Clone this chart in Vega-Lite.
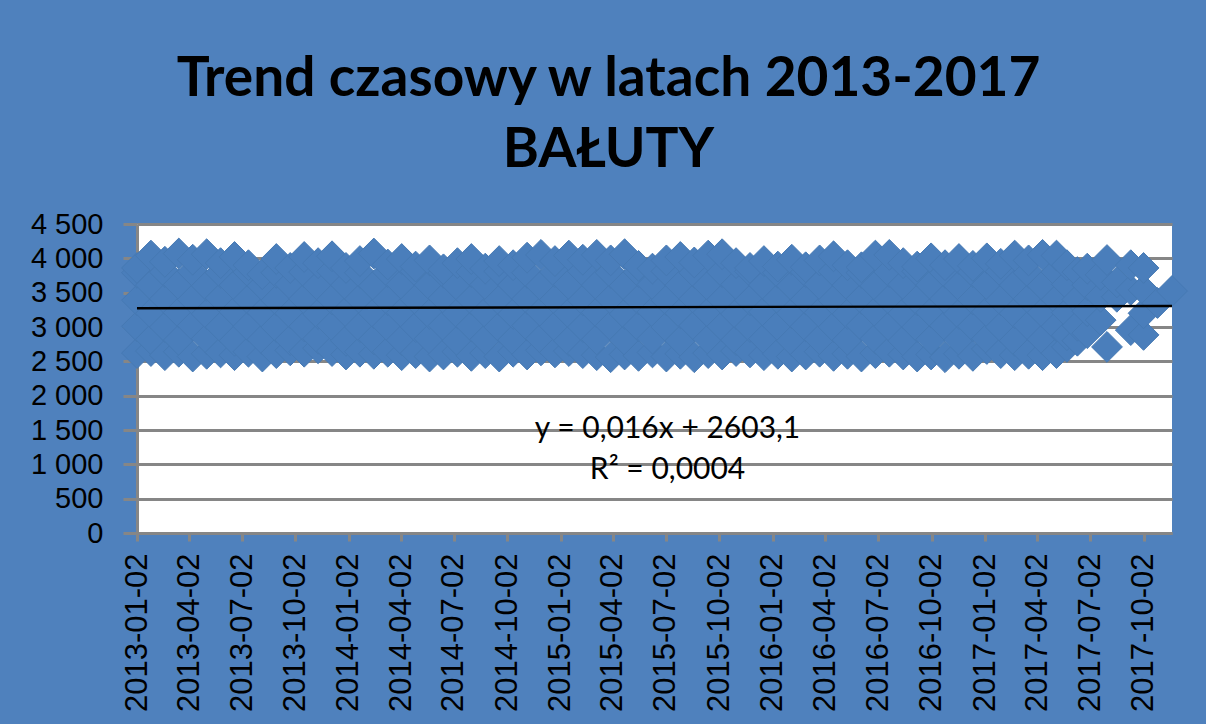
{
"$schema":"https://vega.github.io/schema/vega-lite/v6.json",
"width":1035,"height":309,
"autosize":"none",
"padding":{"left":137,"top":224,"right":34,"bottom":191},
"background":"#4f81bd",
"config":{"view":{"fill":"#ffffff","stroke":null}},
"title":{"text":["Trend czasowy w latach 2013-2017","BAŁUTY"],"font":"Lato","fontSize":55,"fontWeight":"bold","color":"#000000","anchor":"middle","dx":-46,"offset":31,"lineHeight":71},
"encoding":{
"x":{"field":"d","type":"temporal","scale":{"type":"utc","domain":[{"year":2013,"month":1,"date":2,"utc":true},{"year":2017,"month":11,"date":20,"utc":true}],"nice":false},
"axis":{"title":null,"values":[{"year":2013,"month":1,"date":2,"utc":true},{"year":2013,"month":4,"date":2,"utc":true},{"year":2013,"month":7,"date":2,"utc":true},{"year":2013,"month":10,"date":2,"utc":true},{"year":2014,"month":1,"date":2,"utc":true},{"year":2014,"month":4,"date":2,"utc":true},{"year":2014,"month":7,"date":2,"utc":true},{"year":2014,"month":10,"date":2,"utc":true},{"year":2015,"month":1,"date":2,"utc":true},{"year":2015,"month":4,"date":2,"utc":true},{"year":2015,"month":7,"date":2,"utc":true},{"year":2015,"month":10,"date":2,"utc":true},{"year":2016,"month":1,"date":2,"utc":true},{"year":2016,"month":4,"date":2,"utc":true},{"year":2016,"month":7,"date":2,"utc":true},{"year":2016,"month":10,"date":2,"utc":true},{"year":2017,"month":1,"date":2,"utc":true},{"year":2017,"month":4,"date":2,"utc":true},{"year":2017,"month":7,"date":2,"utc":true},{"year":2017,"month":10,"date":2,"utc":true}],
"labelExpr":"utcFormat(datum.value, '%Y-%m-%d')","labelAngle":-90,"labelAlign":"right","labelBaseline":"middle","labelFont":"Liberation Sans","labelFontSize":31,"labelColor":"#000000","labelPadding":12,"labelOverlap":false,"labelBound":false,"labelFlush":false,"grid":false,"domainColor":"#868686","domainWidth":3,"tickColor":"#868686","tickWidth":3,"tickSize":8}},
"y":{"field":"v","type":"quantitative","scale":{"domain":[0,4500],"nice":false},
"axis":{"title":null,"values":[0,500,1000,1500,2000,2500,3000,3500,4000,4500],"labelExpr":"replace(format(datum.value, ','), ',', ' ')","labelFont":"Liberation Sans","labelFontSize":29,"labelColor":"#000000","labelPadding":20,"labelOverlap":false,"labelBound":false,"labelFlush":false,"grid":true,"gridColor":"#868686","gridWidth":3,"domainColor":"#868686","domainWidth":3,"tickColor":"#868686","tickWidth":3,"tickSize":14}}
},
"layer":[
{"data":{"values":[
{"d":"2013-01-02","v":2620},{"d":"2013-01-02","v":3010},{"d":"2013-01-02","v":3390},{"d":"2013-01-02","v":3790},{"d":"2013-01-02","v":3860},
{"d":"2013-01-26","v":2650},{"d":"2013-01-26","v":2820},{"d":"2013-01-26","v":3200},{"d":"2013-01-26","v":3610},{"d":"2013-01-26","v":4040},
{"d":"2013-02-19","v":2590},{"d":"2013-02-19","v":3000},{"d":"2013-02-19","v":3410},{"d":"2013-02-19","v":3800},{"d":"2013-02-19","v":3950},
{"d":"2013-03-15","v":2640},{"d":"2013-03-15","v":2810},{"d":"2013-03-15","v":3210},{"d":"2013-03-15","v":3620},{"d":"2013-03-15","v":4070},
{"d":"2013-04-08","v":2570},{"d":"2013-04-08","v":3020},{"d":"2013-04-08","v":3400},{"d":"2013-04-08","v":3810},{"d":"2013-04-08","v":3980},
{"d":"2013-05-02","v":2610},{"d":"2013-05-02","v":2830},{"d":"2013-05-02","v":3190},{"d":"2013-05-02","v":3600},{"d":"2013-05-02","v":4060},
{"d":"2013-05-26","v":2630},{"d":"2013-05-26","v":3000},{"d":"2013-05-26","v":3420},{"d":"2013-05-26","v":3790},{"d":"2013-05-26","v":3930},
{"d":"2013-06-19","v":2590},{"d":"2013-06-19","v":2800},{"d":"2013-06-19","v":3220},{"d":"2013-06-19","v":3610},{"d":"2013-06-19","v":4020},
{"d":"2013-07-13","v":2640},{"d":"2013-07-13","v":3010},{"d":"2013-07-13","v":3400},{"d":"2013-07-13","v":3800},{"d":"2013-07-13","v":3900},
{"d":"2013-08-06","v":2570},{"d":"2013-08-06","v":2820},{"d":"2013-08-06","v":3210},{"d":"2013-08-06","v":3600},{"d":"2013-08-06","v":3770},
{"d":"2013-08-30","v":2620},{"d":"2013-08-30","v":3000},{"d":"2013-08-30","v":3390},{"d":"2013-08-30","v":3790},{"d":"2013-08-30","v":3990},
{"d":"2013-09-23","v":2660},{"d":"2013-09-23","v":2810},{"d":"2013-09-23","v":3200},{"d":"2013-09-23","v":3620},{"d":"2013-09-23","v":3860},
{"d":"2013-10-17","v":2640},{"d":"2013-10-17","v":3010},{"d":"2013-10-17","v":3410},{"d":"2013-10-17","v":3800},{"d":"2013-10-17","v":4020},
{"d":"2013-11-10","v":2690},{"d":"2013-11-10","v":2830},{"d":"2013-11-10","v":3190},{"d":"2013-11-10","v":3600},{"d":"2013-11-10","v":3930},
{"d":"2013-12-04","v":2650},{"d":"2013-12-04","v":3020},{"d":"2013-12-04","v":3400},{"d":"2013-12-04","v":3810},{"d":"2013-12-04","v":4030},
{"d":"2013-12-28","v":2600},{"d":"2013-12-28","v":2800},{"d":"2013-12-28","v":3220},{"d":"2013-12-28","v":3610},{"d":"2013-12-28","v":3860},
{"d":"2014-01-21","v":2640},{"d":"2014-01-21","v":3000},{"d":"2014-01-21","v":3410},{"d":"2014-01-21","v":3790},{"d":"2014-01-21","v":3960},
{"d":"2014-02-14","v":2610},{"d":"2014-02-14","v":2820},{"d":"2014-02-14","v":3200},{"d":"2014-02-14","v":3600},{"d":"2014-02-14","v":4070},
{"d":"2014-03-10","v":2640},{"d":"2014-03-10","v":3010},{"d":"2014-03-10","v":3390},{"d":"2014-03-10","v":3800},{"d":"2014-03-10","v":3910},
{"d":"2014-04-03","v":2590},{"d":"2014-04-03","v":2810},{"d":"2014-04-03","v":3210},{"d":"2014-04-03","v":3620},{"d":"2014-04-03","v":3990},
{"d":"2014-04-27","v":2620},{"d":"2014-04-27","v":3000},{"d":"2014-04-27","v":3400},{"d":"2014-04-27","v":3810},{"d":"2014-04-27","v":3880},
{"d":"2014-05-21","v":2570},{"d":"2014-05-21","v":2830},{"d":"2014-05-21","v":3190},{"d":"2014-05-21","v":3610},{"d":"2014-05-21","v":3970},
{"d":"2014-06-14","v":2600},{"d":"2014-06-14","v":3020},{"d":"2014-06-14","v":3420},{"d":"2014-06-14","v":3790},{"d":"2014-06-14","v":3840},
{"d":"2014-07-08","v":2640},{"d":"2014-07-08","v":2800},{"d":"2014-07-08","v":3200},{"d":"2014-07-08","v":3600},{"d":"2014-07-08","v":3930},
{"d":"2014-08-01","v":2580},{"d":"2014-08-01","v":3010},{"d":"2014-08-01","v":3400},{"d":"2014-08-01","v":3800},{"d":"2014-08-01","v":3990},
{"d":"2014-08-25","v":2620},{"d":"2014-08-25","v":2820},{"d":"2014-08-25","v":3210},{"d":"2014-08-25","v":3620},{"d":"2014-08-25","v":3850},
{"d":"2014-09-18","v":2570},{"d":"2014-09-18","v":3000},{"d":"2014-09-18","v":3390},{"d":"2014-09-18","v":3810},{"d":"2014-09-18","v":3960},
{"d":"2014-10-12","v":2640},{"d":"2014-10-12","v":2810},{"d":"2014-10-12","v":3190},{"d":"2014-10-12","v":3610},{"d":"2014-10-12","v":3900},
{"d":"2014-11-05","v":2600},{"d":"2014-11-05","v":3020},{"d":"2014-11-05","v":3410},{"d":"2014-11-05","v":3790},{"d":"2014-11-05","v":4010},
{"d":"2014-11-29","v":2660},{"d":"2014-11-29","v":2830},{"d":"2014-11-29","v":3220},{"d":"2014-11-29","v":3600},{"d":"2014-11-29","v":4050},
{"d":"2014-12-23","v":2630},{"d":"2014-12-23","v":3010},{"d":"2014-12-23","v":3400},{"d":"2014-12-23","v":3800},{"d":"2014-12-23","v":3960},
{"d":"2015-01-16","v":2650},{"d":"2015-01-16","v":2800},{"d":"2015-01-16","v":3200},{"d":"2015-01-16","v":3620},{"d":"2015-01-16","v":4040},
{"d":"2015-02-09","v":2620},{"d":"2015-02-09","v":3000},{"d":"2015-02-09","v":3390},{"d":"2015-02-09","v":3810},{"d":"2015-02-09","v":3980},
{"d":"2015-03-05","v":2590},{"d":"2015-03-05","v":2820},{"d":"2015-03-05","v":3210},{"d":"2015-03-05","v":3610},{"d":"2015-03-05","v":4050},
{"d":"2015-03-29","v":2560},{"d":"2015-03-29","v":3020},{"d":"2015-03-29","v":3410},{"d":"2015-03-29","v":3790},{"d":"2015-03-29","v":3970},
{"d":"2015-04-22","v":2600},{"d":"2015-04-22","v":2810},{"d":"2015-04-22","v":3190},{"d":"2015-04-22","v":3600},{"d":"2015-04-22","v":4060},
{"d":"2015-05-16","v":2580},{"d":"2015-05-16","v":3010},{"d":"2015-05-16","v":3400},{"d":"2015-05-16","v":3800},{"d":"2015-05-16","v":3890},
{"d":"2015-06-09","v":2630},{"d":"2015-06-09","v":2830},{"d":"2015-06-09","v":3220},{"d":"2015-06-09","v":3620},{"d":"2015-06-09","v":3850},
{"d":"2015-07-03","v":2570},{"d":"2015-07-03","v":3000},{"d":"2015-07-03","v":3390},{"d":"2015-07-03","v":3810},{"d":"2015-07-03","v":3970},
{"d":"2015-07-27","v":2610},{"d":"2015-07-27","v":2800},{"d":"2015-07-27","v":3200},{"d":"2015-07-27","v":3610},{"d":"2015-07-27","v":4020},
{"d":"2015-08-20","v":2560},{"d":"2015-08-20","v":3020},{"d":"2015-08-20","v":3410},{"d":"2015-08-20","v":3790},{"d":"2015-08-20","v":3940},
{"d":"2015-09-13","v":2620},{"d":"2015-09-13","v":2820},{"d":"2015-09-13","v":3210},{"d":"2015-09-13","v":3600},{"d":"2015-09-13","v":4040},
{"d":"2015-10-07","v":2600},{"d":"2015-10-07","v":3010},{"d":"2015-10-07","v":3400},{"d":"2015-10-07","v":3800},{"d":"2015-10-07","v":4060},
{"d":"2015-10-31","v":2650},{"d":"2015-10-31","v":2810},{"d":"2015-10-31","v":3190},{"d":"2015-10-31","v":3620},{"d":"2015-10-31","v":3930},
{"d":"2015-11-24","v":2630},{"d":"2015-11-24","v":3000},{"d":"2015-11-24","v":3390},{"d":"2015-11-24","v":3810},{"d":"2015-11-24","v":3860},
{"d":"2015-12-18","v":2590},{"d":"2015-12-18","v":2830},{"d":"2015-12-18","v":3220},{"d":"2015-12-18","v":3610},{"d":"2015-12-18","v":3960},
{"d":"2016-01-11","v":2610},{"d":"2016-01-11","v":3020},{"d":"2016-01-11","v":3410},{"d":"2016-01-11","v":3790},{"d":"2016-01-11","v":3880},
{"d":"2016-02-04","v":2570},{"d":"2016-02-04","v":2800},{"d":"2016-02-04","v":3200},{"d":"2016-02-04","v":3600},{"d":"2016-02-04","v":3980},
{"d":"2016-02-28","v":2600},{"d":"2016-02-28","v":3010},{"d":"2016-02-28","v":3400},{"d":"2016-02-28","v":3800},{"d":"2016-02-28","v":3870},
{"d":"2016-03-23","v":2640},{"d":"2016-03-23","v":2820},{"d":"2016-03-23","v":3210},{"d":"2016-03-23","v":3620},{"d":"2016-03-23","v":3970},
{"d":"2016-04-16","v":2580},{"d":"2016-04-16","v":3000},{"d":"2016-04-16","v":3390},{"d":"2016-04-16","v":3810},{"d":"2016-04-16","v":4030},
{"d":"2016-05-10","v":2610},{"d":"2016-05-10","v":2810},{"d":"2016-05-10","v":3190},{"d":"2016-05-10","v":3610},{"d":"2016-05-10","v":3900},
{"d":"2016-06-03","v":2570},{"d":"2016-06-03","v":3020},{"d":"2016-06-03","v":3410},{"d":"2016-06-03","v":3790},{"d":"2016-06-03","v":3870},
{"d":"2016-06-27","v":2620},{"d":"2016-06-27","v":2830},{"d":"2016-06-27","v":3220},{"d":"2016-06-27","v":3600},{"d":"2016-06-27","v":4040},
{"d":"2016-07-21","v":2640},{"d":"2016-07-21","v":3010},{"d":"2016-07-21","v":3400},{"d":"2016-07-21","v":3800},{"d":"2016-07-21","v":4050},
{"d":"2016-08-14","v":2600},{"d":"2016-08-14","v":2800},{"d":"2016-08-14","v":3200},{"d":"2016-08-14","v":3620},{"d":"2016-08-14","v":3930},
{"d":"2016-09-07","v":2570},{"d":"2016-09-07","v":3000},{"d":"2016-09-07","v":3390},{"d":"2016-09-07","v":3810},{"d":"2016-09-07","v":3880},
{"d":"2016-10-01","v":2600},{"d":"2016-10-01","v":2820},{"d":"2016-10-01","v":3210},{"d":"2016-10-01","v":3610},{"d":"2016-10-01","v":4000},
{"d":"2016-10-25","v":2560},{"d":"2016-10-25","v":3020},{"d":"2016-10-25","v":3410},{"d":"2016-10-25","v":3790},{"d":"2016-10-25","v":3900},
{"d":"2016-11-18","v":2610},{"d":"2016-11-18","v":2810},{"d":"2016-11-18","v":3190},{"d":"2016-11-18","v":3600},{"d":"2016-11-18","v":3990},
{"d":"2016-12-12","v":2580},{"d":"2016-12-12","v":3010},{"d":"2016-12-12","v":3400},{"d":"2016-12-12","v":3800},{"d":"2016-12-12","v":3890},
{"d":"2017-01-05","v":2680},{"d":"2017-01-05","v":2830},{"d":"2017-01-05","v":3220},{"d":"2017-01-05","v":3620},{"d":"2017-01-05","v":4000},
{"d":"2017-01-29","v":2620},{"d":"2017-01-29","v":3000},{"d":"2017-01-29","v":3390},{"d":"2017-01-29","v":3810},{"d":"2017-01-29","v":3920},
{"d":"2017-02-22","v":2590},{"d":"2017-02-22","v":2800},{"d":"2017-02-22","v":3200},{"d":"2017-02-22","v":3610},{"d":"2017-02-22","v":4040},
{"d":"2017-03-18","v":2610},{"d":"2017-03-18","v":3020},{"d":"2017-03-18","v":3410},{"d":"2017-03-18","v":3790},{"d":"2017-03-18","v":3970},
{"d":"2017-04-11","v":2590},{"d":"2017-04-11","v":2820},{"d":"2017-04-11","v":3210},{"d":"2017-04-11","v":3600},{"d":"2017-04-11","v":4050},
{"d":"2017-05-05","v":2620},{"d":"2017-05-05","v":3010},{"d":"2017-05-05","v":3400},{"d":"2017-05-05","v":3800},{"d":"2017-05-05","v":4040},
{"d":"2017-05-23","v":2710},{"d":"2017-05-23","v":2880},{"d":"2017-05-23","v":3210},{"d":"2017-05-23","v":3620},{"d":"2017-05-23","v":3900},
{"d":"2017-06-10","v":2800},{"d":"2017-06-10","v":3020},{"d":"2017-06-10","v":3400},{"d":"2017-06-10","v":3800},
{"d":"2017-06-27","v":2910},{"d":"2017-06-27","v":3230},{"d":"2017-06-27","v":3610},{"d":"2017-06-27","v":3850},
{"d":"2017-07-20","v":3100},{"d":"2017-07-20","v":3440},{"d":"2017-07-20","v":3760},
{"d":"2017-07-31","v":2710},{"d":"2017-07-31","v":3975},
{"d":"2017-08-17","v":3440},{"d":"2017-08-17","v":3650},
{"d":"2017-09-10","v":2955},{"d":"2017-09-10","v":3540},{"d":"2017-09-10","v":3900},
{"d":"2017-10-02","v":2885},{"d":"2017-10-02","v":3200},{"d":"2017-10-02","v":3540},{"d":"2017-10-02","v":3860},
{"d":"2017-10-26","v":3350},
{"d":"2017-11-20","v":3524}
]},
"mark":{"type":"point","shape":"diamond","filled":true,"size":950,"opacity":1,"fill":"#4a7ebb","stroke":"#4679b3","strokeWidth":1,"clip":false}},
{"data":{"values":[{"d":"2013-01-02","v":3272},{"d":"2017-11-20","v":3306}]},
"mark":{"type":"line","color":"#000000","strokeWidth":2.4}},
{"data":{"values":[{"d":"2015-07-05","v":1515,"t":"y = 0,016x + 2603,1"},{"d":"2015-07-05","v":917,"t":"R² = 0,0004"}]},
"mark":{"type":"text","font":"Lato","fontSize":30,"color":"#000000","align":"center","baseline":"middle"},
"encoding":{"text":{"field":"t","type":"nominal"}}}
]
}
